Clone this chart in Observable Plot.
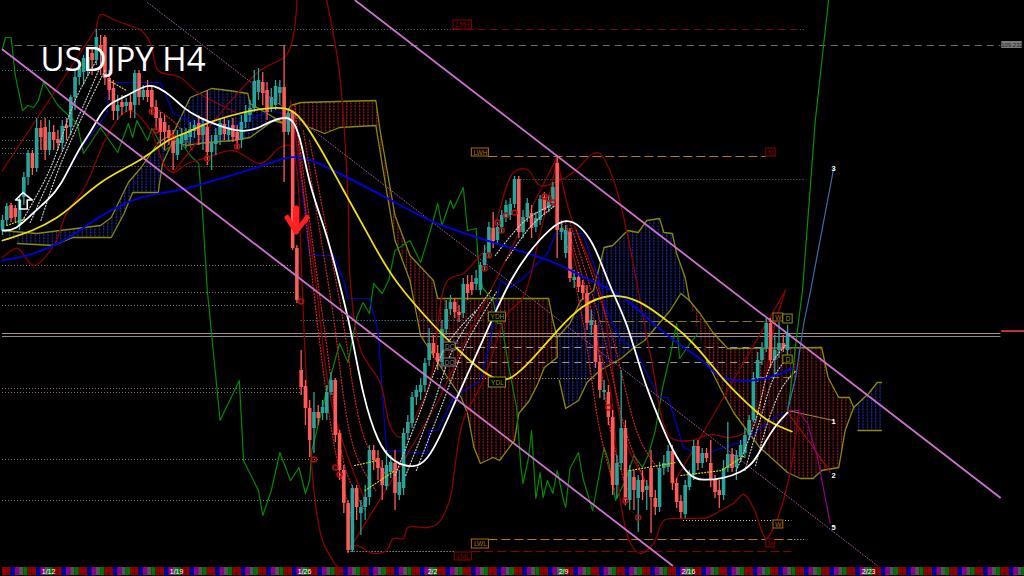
<!DOCTYPE html>
<html><head><meta charset="utf-8">
<script src="https://cdn.jsdelivr.net/npm/d3@7"></script>
<script src="https://cdn.jsdelivr.net/npm/@observablehq/plot@0.6"></script>
<style>html,body{margin:0;padding:0;background:#000;overflow:hidden}svg{display:block}</style>
</head><body>
<script>
// Price is read as a drop below the top of the pane; the price axis itself is not legible.
const opens=[230,220,205,208,225,197,177,153,168,128,127,150,132,139,143,125,127,97,77,72,68,53,60,45,37,78,88,111,102,106,102,105,73,97,90,90,107,118,122,130,138,155,143,140,137,131,123,135,127,152,144,135,124,135,125,132,140,122,115,108,92,82,90,107,105,93,87,132,112,248,370,386,408,428,412,413,413,392,380,433,470,503,550,488,513,507,497,450,458,468,486,472,463,495,488,433,423,397,392,385,360,343,353,362,329,309,302,312,313,284,282,284,290,265,253,228,240,227,217,215,204,179,232,217,213,227,220,197,208,203,163,232,253,232,280,277,285,293,325,325,362,392,392,417,485,463,428,500,477,498,480,490,468,498,507,468,467,451,483,501,514,487,475,446,463,453,463,480,490,495,468,454,467,457,453,435,420,378,360,348,323,360,350,343,350];
const closes=[220,206,218,217,200,177,153,168,128,137,150,132,140,143,126,128,97,77,68,58,57,60,37,50,78,90,111,105,107,102,110,73,97,90,97,107,118,132,132,138,153,138,135,134,129,125,135,124,152,143,135,123,134,127,137,140,122,112,108,81,80,93,112,97,86,87,132,113,248,300,387,408,440,412,418,407,392,380,435,470,503,550,488,507,507,497,450,460,468,485,465,462,493,482,433,422,397,390,385,363,343,353,362,329,309,302,312,315,284,293,290,278,265,253,227,241,227,215,205,204,179,232,217,203,228,218,199,210,200,187,230,228,230,278,277,287,293,323,320,362,390,390,417,485,463,428,500,470,490,480,492,486,497,507,468,463,451,483,502,512,485,475,446,463,453,458,480,492,495,468,454,468,455,445,435,420,378,360,348,323,360,350,343,348,333];
const highs=[215,203,203,205,196,172,150,150,118,120,118,120,125,130,120,118,95,70,60,55,50,48,29,35,35,70,80,95,95,98,95,70,70,85,80,85,100,112,115,125,130,130,128,128,122,120,115,118,90,135,128,118,118,120,118,125,115,105,100,70,68,72,82,88,80,80,45,108,110,245,350,380,400,392,405,400,385,372,378,430,465,500,485,485,500,485,445,445,450,460,450,455,450,470,428,415,392,385,378,358,328,335,345,320,300,295,298,305,278,275,275,270,262,245,222,212,222,210,200,198,176,176,210,198,205,212,195,192,195,182,156,222,225,228,270,272,280,285,310,320,355,380,385,410,455,370,420,465,470,475,470,480,450,490,462,455,445,445,478,495,480,470,440,440,448,448,440,475,480,460,422,448,450,440,428,415,372,352,342,318,318,335,322,335,325];
const lows=[235,225,222,222,230,205,185,175,172,150,160,155,150,150,150,140,135,110,85,85,75,75,65,75,85,100,120,120,115,112,118,118,105,100,102,115,130,145,150,145,170,160,150,148,145,138,145,150,165,170,155,145,140,142,142,148,148,128,122,112,100,105,120,112,110,105,182,135,250,303,395,425,457,453,425,420,420,395,442,480,513,553,552,520,535,520,505,470,480,500,490,478,510,500,495,440,428,405,400,392,366,358,370,368,335,315,318,322,318,300,295,290,295,270,258,248,245,232,222,220,208,238,238,222,238,232,225,215,212,208,258,240,258,282,288,292,300,330,335,368,398,400,425,495,498,470,505,510,510,532,500,510,533,515,512,475,472,490,508,518,518,490,480,470,468,462,487,498,508,500,472,472,480,462,458,440,422,382,365,352,368,375,358,352,358];

const whiteMA=[[0,230],[3,230],[7,213],[10.5,200],[13.5,187],[18,147],[20.5,133],[23,113],[25,103],[28.5,97],[34,83],[36.5,87],[39.5,95],[42.5,108],[46,117],[50.5,125],[56,132],[60,128],[62,122],[67,115],[68.5,123],[70,140],[72,187],[76,233],[79,283],[81.5,325],[84.5,397],[88,443],[91.5,462],[96.5,468],[99.5,460],[102.5,437],[106.5,397],[111.5,350],[116,307],[119,280],[123,253],[128.5,227],[132,218],[135.5,225],[138.5,243],[141,270],[143,292],[146.5,323],[150,377],[154,420],[157,450],[161,477],[164,480],[169,478],[173,472],[176,463],[178.5,443],[181.5,423],[184,412]];
const yellowMA=[[0,240],[7.5,230],[13,217],[16,207],[23,180],[31,163],[34,155],[39,138],[43.5,132],[48,122],[53.5,115],[60,108],[67,106],[70,117],[74.5,147],[79,183],[86.5,240],[91.5,280],[102.5,332],[106.5,348],[112,370],[116,380],[119,380],[124,360],[130,330],[135.5,305],[142.5,292],[149.5,300],[155,318],[159.5,332],[164.5,355],[169,380],[174.5,403],[179.5,422],[185,431]];
const blueMA=[[0,260],[6.5,255],[12,245],[16,237],[20.5,222],[26,208],[33,195],[38.5,192],[43.5,188],[49.5,180],[57.5,170],[64.5,160],[68,155],[73,160],[79,173],[93.5,205],[100.5,222],[112,238],[121,250],[130,262],[136,277],[142.5,288],[147.5,303],[153.5,327],[159.5,347],[164.5,360],[167.5,377],[172.5,381],[177,380],[181.5,375],[185,368]];
const greenOsc=[[0,48],[.7,37],[2,37],[3,75],[4.7,110],[6,105],[7.3,107],[8.4,100],[9.6,82],[13,105],[17.5,123],[19,153],[23,127],[27,152],[29.5,123],[30.5,137],[31.5,120],[34,140],[35,128],[38,150],[41.5,140],[44,155],[46,163],[47,220],[48,290],[51,420],[55.5,380],[56.5,460],[60,490],[61,515],[63,490],[65,452],[67.5,480],[69.5,467],[71,493],[72,480],[72.5,450],[76,390],[79,343],[81,362],[83,317],[84.5,302],[86,313],[87,283],[89,293],[90.5,280],[92,250],[95.5,240],[98,262],[100.5,227],[102,203],[103,225],[105,200],[105.7,208],[108,187],[109,230],[111,228],[111.5,260],[112.5,287],[115,300],[116,323],[117,323],[118.5,363],[120.5,407],[121.5,467],[122,483],[123.3,457],[124,430],[125,498],[126,472],[126.7,497],[127.7,480],[129,493],[130,470],[131.5,500],[132,507],[133,468],[135,452],[136,477],[138.3,510],[141,447],[142,460],[143.7,500],[146,480],[148,455],[150,467],[151.5,453],[153,430],[154.7,387],[156.6,353],[158,323],[158.7,358],[160.8,345],[163,333]];
const blueStep=[[15,173],[18,150],[21,133],[24.5,113],[25,82],[37,82],[40,113],[45,122],[54.5,125],[63,110],[68,115],[70,180],[72,255],[77.5,255],[80,280],[81,298],[86,298],[88,330],[90,450],[99.5,453],[100,430],[102,430],[105.7,397],[112,380],[114,347],[116.7,280],[119,287],[121.5,280],[127.7,253],[129.6,233],[136,233],[138.5,263],[140.6,290],[141.3,307],[145,340],[148,347],[150.7,370],[153.8,397],[156,397],[159.6,447],[163.6,455],[174,440],[181.6,415],[184,415]];

const bandLines=[
 [[0,170],[22,28]],
 [[22,28],[23,14],[26.5,20],[32.5,30],[34.7,43],[36.5,70],[41.7,77],[45.7,92],[50,102],[54.6,112]],
 [[0,257],[3.5,248],[7.3,265],[12,245],[14.8,215],[19.5,185],[24,140],[27.7,115],[30,110],[34.7,130],[38,165],[40,172],[43.4,163],[48,157],[54,150],[60.5,163],[65,147],[67.5,145],[69,170],[70,260],[71,360],[73,490],[75,540],[78.5,567]],
 [[40,172],[59.8,72],[66.8,53],[69,0]],
 [[81.5,547],[83,545],[87,553],[90,550],[91.6,538],[94,538],[95,527],[99.6,527],[102,523],[105,497],[105.7,477],[108,420],[112.7,380],[118.4,313],[122,297],[126,233],[130,160]],
 [[76,0],[79,73],[81,200],[81.5,280],[84,350],[88.6,383],[91,427],[93.3,437],[96.3,420],[100.3,380],[104.3,280],[108,273],[111.3,258],[113.7,245],[116,217],[119.8,172],[123,169],[126,185],[131.5,178],[134.8,168],[138.5,153],[140,153],[143,177],[145.6,217],[149,290],[152,357],[156.6,437],[161.3,440],[166,434],[170.6,437],[174.6,430],[177.7,400],[180.7,330],[183.5,290]],
 [[132,225],[137.8,320],[142.5,390],[144.9,503],[147.2,543],[149.5,553],[152.6,543],[155,520],[159.6,518],[165.3,517],[168.3,510],[171.3,503],[173.7,494],[176,507],[179,538],[181.7,517],[184.7,470],[186.6,410]],
 [[157.3,483],[183.5,290]],
 [[81.5,547],[93.3,465],[102.7,395],[108.5,340],[114.4,290],[120.2,240],[129.9,157]],
 [[67.5,100],[73,267],[77,400],[81,457],[85,500]],
 [[130,157],[133,213],[140,290],[146,440],[152,490]]
];

const redFans=[
 [[69.5,140],[75.5,330],[80.5,470],[85,510]],
 [[70.5,130],[77,300],[82.5,450],[87.5,490]],
 [[72,140],[79,300],[85,440],[90,475]],
 [[68.5,105],[74,330],[78,450],[82,520]],
 [[131,220],[136,320],[140,430],[143.5,490]],
 [[132,222],[138,310],[143,440],[146.5,490]],
 [[133,222],[140,320],[146,430],[150.5,480]],
 [[134.5,230],[142.5,330],[149.5,440],[154,470]],
 [[35,105],[41,125],[44.5,150]]
];
const whiteFans=[
 [[4,225],[11,170],[17,100],[22,60]],
 [[6.5,222],[12.5,165],[19.5,100],[23,65]],
 [[9,220],[13.5,165],[20.5,100],[24,70]],
 [[92,475],[98,410],[104,345],[111,310]],
 [[94.5,475],[100.5,410],[106,345],[114.5,290]],
 [[97,470],[102.5,410],[108.5,345],[116,290]],
 [[115.5,255],[122.5,220],[128.5,205]],
 [[118,260],[124,225],[129.5,205]],
 [[172,470],[176.5,420],[180,365],[183.5,345]],
 [[174,470],[177.5,420],[181,375],[184.5,355]],
 [[176.5,465],[179.5,420],[183,385],[186,370]]
];
const yellowFans=[
 [[1,225],[5.5,218]],
 [[25,80],[29,90]],
 [[82.5,465],[88,460]],
 [[85,490],[92,470]],
 [[159,475],[168.5,470],[174,455]],
 [[147,470],[158,462]]
];

const cloud1Top=[[0,230],[8,233],[13.5,230],[23,225],[25.5,217],[29.5,182],[32.5,167],[36.5,142],[40,133],[44,97],[49,88],[53,90],[57.5,93],[58,103],[66,123]];
const cloud1Bottom=[[3.5,243],[12,245],[16.5,237],[25.5,237],[28.5,213],[30.5,192],[36.5,192],[37.5,163],[40,140],[43,145],[48,142],[54,140],[58,137],[63.5,120],[66,123]];
const cloud2Top=[[66,123],[67.5,105],[70,102],[87.5,100],[88.5,130],[92,215],[95.5,255],[101,280],[102,298],[128,298],[129,320],[130,337]];
const cloud2Bottom=[[72,127],[75.5,133],[79,127],[87.5,125],[90,190],[92,240],[95.5,280],[98,335],[104,375],[107.5,397],[109,413],[110.5,447],[112,463],[115,457],[116.5,460],[120,440],[121,413],[123.5,400],[125.5,383],[127,367],[130,357],[130,337]];
const cloud3Top=[[130,337],[133,323],[135.5,300],[138.5,290],[141,247],[143,245],[146.5,230],[149,232],[151,220],[154,218],[155,232],[157,233],[158,253],[160,277],[161,300]];
const cloud3Bottom=[[130.5,380],[132,408],[135,400],[137,382],[140,370],[145,358],[148,347],[150.5,340],[156.5,310],[159,293],[161,300]];
const cloud4Top=[[161,300],[163.5,313],[166.5,332],[170,348],[192,347],[193.5,377],[196,397],[198.5,397],[199.5,407]];
const cloud4Bottom=[[165,360],[168.5,390],[171.5,413],[177.5,447],[184,472],[187,478],[190,478],[192,470],[196,467],[197.5,430],[199.5,407]];
const cloud5Top=[[199.5,407],[203,393],[205,382],[206,382]];
const cloud5Bottom=[[200.5,430],[206,430]];

const channelA=[[82.7,0],[233.8,497]];
const channelB=[[0,49],[157,565]];
const dottedTrend=[[34,2],[205,565]];
const forecastGreen=[[184,410],[184.7,390],[186.3,330],[187.5,290],[190.5,120],[193.6,0]];
const forecastOne=[[184,410],[194.8,420]];
const forecastTwo=[[184,412],[189.4,443],[194,472]];
const forecastThree=[[184,410],[185.9,377],[187.8,323],[189.4,290],[194.8,168]];
const forecastFive=[[184,410],[186.4,410],[188.7,423],[191,457],[194,523]];
const buyArrow=[[4.8,192],[7,199.5],[5.8,199.5],[5.8,208.5],[4.05,208.5],[4.05,199.5],[3.05,199.5],[4.8,192]];
const sellHead=[[66.7,217],[68.8,231],[71.4,217]];
const sellStem=[[68.8,208],[68.8,231]];

const levelY =[29,29,29,45,70,117,140,148,153,166,265,292,305,388,392,459,500,320,179,156,321,333,336,347,362,378,377,539,539,551,551,520];
const levelX1=[22,106,187,3,0,0,0,0,0,10,0,0,0,0,0,0,0,70,121.5,114,137,0,0,106,106,102,177,114,185,110,81,159.6];
const levelX2=[106,187,188,234,17,16,10,10,10,66,68,69,69,70,70,74,77,113,188,179,180,234,234,178,178,139,185,185,188,185,106,185];
const levelColor=["#3f6f80","#8b0000","#3f6f80","#6a6a6a","#3f6f80","#3f6f80","#3f6f80","#3f6f80","#3f6f80","#8f6a80","#8f6a80","#8f6a80","#8f6a80","#8f6a80","#8f6a80","#8f6a80","#8f6a80","#4fa0c0","#4f7f8f","#c07a00","#808000","#b08484","#8c8c8c","#9a9a9a","#9a9a9a","#b0b040","#808000","#c07a00","#cccccc","#8b0000","#c8c8c8","#c8c8c8"];
const levelDash=["1,2","7,5","1,2","7,5","1,2","1,2","1,2","1,2","1,2","1,2","1,2","1,2","1,2","1,2","1,2","1,2","1,2","1,2","1,2","9,4","9,4","none","none","7,5","7,5","1,2","9,4","9,4","1,2","9,4","1,2","1,2"];

const boxText =["LMH","LWH","M","YDH","W","D","DC","DO","D","YDL","LWL","LML","W","M"];
const boxX1   =[105.7,110,179,114,180.7,183,103.4,103.4,183,114,110,106,180.7,179];
const boxX2   =[110,114,181.2,118,183,185.2,106.2,106.2,185.2,118,114,110,183,181];
const boxY1   =[20,148,148,312,313,314,342,358,355,377,539,552,520,539];
const boxY2   =[29,156,156,321,321,323,350,366,363,387,548,560,528,547];
const boxColor=["#8b0000","#b07000","#8b0000","#909000","#b07000","#909000","#808080","#808080","#909000","#909000","#b07000","#8b0000","#b07000","#8b0000"];

const weekLabels=["1/12","1/19","1/26","2/2","2/9","2/16","2/23"];
const weekBars  =[10.8,40.8,70.8,100.8,131.5,160.8,203];
const stripCycle=["#8b0000","#8b0000","#0000a0","#8b008b","#555555","#007000"];
const stripBars=d3.range(0,240);

const waveLabels=["1","2","3","5"];
const waveBars=[194.8,194.8,194.8,194.8];
const waveLevels=[421,475,168,527];

const markerBars=[35,36,40,48,55,70,73,78,79,113,114,116,117,118,120,127,128,129,142,146,149];
const markerLevels=[111,130,137,158,146,301,459,467,474,268,255,222,230,215,212,196,198,202,407,500,517];

const bars=opens.map((o,i)=>({i,o,c:closes[i],h:highs[i],l:lows[i],col:closes[i]<o?"#26a69a":"#ff5a5a"}));
const X=d=>d[0],Y=d=>d[1];
const line=(pts,o)=>Plot.line(pts,{x:X,y:Y,...o});
const poly=(top,bot,fill)=>line(top.concat(bot.slice().reverse()),{fill,stroke:"none"});
const edge=(pts)=>line(pts,{stroke:"#8a8a00",strokeWidth:1.3});
const levels=levelY.map((y,k)=>({y,x1:levelX1[k],x2:levelX2[k],c:levelColor[k],d:levelDash[k]}));
const boxes=boxText.map((t,k)=>({t,x1:boxX1[k],x2:boxX2[k],y1:boxY1[k],y2:boxY2[k],c:boxColor[k]}));

const marks=[
  poly(cloud1Top,cloud1Bottom,"url(#blueDots)"),
  poly(cloud2Top,cloud2Bottom,"url(#redDots)"),
  poly(cloud3Top,cloud3Bottom,"url(#blueDots)"),
  poly(cloud4Top,cloud4Bottom,"url(#redDots)"),
  poly(cloud5Top,cloud5Bottom,"url(#blueDots)"),
  ...[cloud1Top,cloud1Bottom,cloud2Top,cloud2Bottom,cloud3Top,cloud3Bottom,cloud4Top,cloud4Bottom,cloud5Top,cloud5Bottom].map(edge),
  ...levelDash.map((_,k)=>Plot.ruleY([levels[k]],{y:"y",x1:"x1",x2:"x2",stroke:levels[k].c,strokeWidth:1.2,strokeDasharray:levels[k].d})),
  line(greenOsc,{stroke:"#008a00",strokeWidth:1.2}),
  line(blueStep,{stroke:"#0000c8",strokeWidth:1.2}),
  ...bandLines.map(b=>line(b,{stroke:"#8b0000",strokeWidth:1.3,curve:"catmull-rom"})),
  ...redFans.map(b=>line(b,{stroke:"#e02020",strokeWidth:1.2,strokeDasharray:"1,2",curve:"catmull-rom"})),
  Plot.ruleX(bars,{x:"i",y1:"h",y2:"l",stroke:"col",strokeWidth:1.3}),
  Plot.ruleX(bars,{x:"i",y1:"o",y2:"c",stroke:"col",strokeWidth:3.6}),
  ...whiteFans.map(b=>line(b,{stroke:"#c8c8c8",strokeWidth:1.2,strokeDasharray:"1,2",curve:"catmull-rom"})),
  ...yellowFans.map(b=>line(b,{stroke:"#d8d800",strokeWidth:1.2,strokeDasharray:"1,2"})),
  Plot.dot(markerBars.map((b,k)=>[b,markerLevels[k]]),{x:X,y:Y,r:2.5,stroke:"#b01010",fill:"none"}),
  line(dottedTrend,{stroke:"#a050a0",strokeWidth:1,strokeDasharray:"1,2"}),
  line(forecastGreen,{stroke:"#009000",strokeWidth:1.2}),
  line(forecastOne,{stroke:"#a08020",strokeWidth:1.2}),
  line(forecastTwo,{stroke:"#a01010",strokeWidth:1.2}),
  line(forecastThree,{stroke:"#3070b0",strokeWidth:1.2}),
  line(forecastFive,{stroke:"#900090",strokeWidth:1.2}),
  line(blueMA,{stroke:"#0000e6",strokeWidth:1.8,curve:"basis"}),
  line(yellowMA,{stroke:"#f0e000",strokeWidth:1.8,curve:"basis"}),
  line(whiteMA,{stroke:"#ffffff",strokeWidth:1.8,curve:"basis"}),
  line(channelA,{stroke:"#d070d0",strokeWidth:1.8}),
  line(channelB,{stroke:"#d070d0",strokeWidth:1.8}),
  Plot.rect(boxes,{x1:"x1",x2:"x2",y1:"y1",y2:"y2",stroke:"c",fill:"#000",strokeWidth:1}),
  Plot.text(boxes,{x:d=>(d.x1+d.x2)/2,y:d=>(d.y1+d.y2)/2,text:"t",fill:"c",fontSize:6.5,fontFamily:"Liberation Sans"}),
  Plot.rect([{x1:234.2,x2:239,y1:41,y2:48}],{x1:"x1",x2:"x2",y1:"y1",y2:"y2",fill:"#7a7a7a"}),
  Plot.text([[236.6,44.5]],{x:X,y:Y,text:()=>"109.232",fill:"#222",fontSize:6,fontFamily:"Liberation Sans"}),
  Plot.rect([{x1:234.2,x2:240,y1:330,y2:332}],{x1:"x1",x2:"x2",y1:"y1",y2:"y2",fill:"#c03030"}),
  Plot.text([[8.9,60]],{x:X,y:Y,text:()=>"USDJPY H4",fill:"#fff",fontSize:33,fontWeight:400,fontFamily:"Open Sans",textAnchor:"start"}),
  line(buyArrow,{stroke:"#fff",strokeWidth:1.6}),
  line(sellHead,{stroke:"#ff2020",strokeWidth:5}),
  line(sellStem,{stroke:"#ff2020",strokeWidth:6}),
  Plot.text(waveLabels.map((t,k)=>({t,x:waveBars[k],y:waveLevels[k]})),{x:"x",y:"y",text:"t",fill:"#fff",fontSize:7.5,fontWeight:"bold",fontFamily:"Liberation Sans"}),
  Plot.rect(stripBars,{x1:i=>i,x2:i=>i+1,y1:()=>567,y2:()=>575,fill:i=>stripCycle[i%6]}),
  Plot.text(weekLabels.map((t,k)=>({t,x:weekBars[k]})),{x:"x",y:()=>571,text:"t",fill:"#fff",fontSize:7,fontFamily:"Liberation Sans"})
];

const svg=Plot.plot({
  width:1024,height:576,margin:0,
  style:{background:"#000",fontFamily:"Liberation Sans"},
  x:{domain:[0,240],range:[2,1026],axis:null},
  y:{domain:[0,576],range:[0,576],axis:null},
  color:{type:"identity"},
  marks
});
svg.insertAdjacentHTML("afterbegin",`<defs>
<pattern id="redDots" patternUnits="userSpaceOnUse" width="4.267" height="3"><rect width="1.2" height="1.5" fill="#e02020"/></pattern>
<pattern id="blueDots" patternUnits="userSpaceOnUse" width="4.267" height="3"><rect width="1.2" height="1.5" fill="#2a3aee"/></pattern>
</defs>`);
document.body.appendChild(svg);
</script>
</body></html>
